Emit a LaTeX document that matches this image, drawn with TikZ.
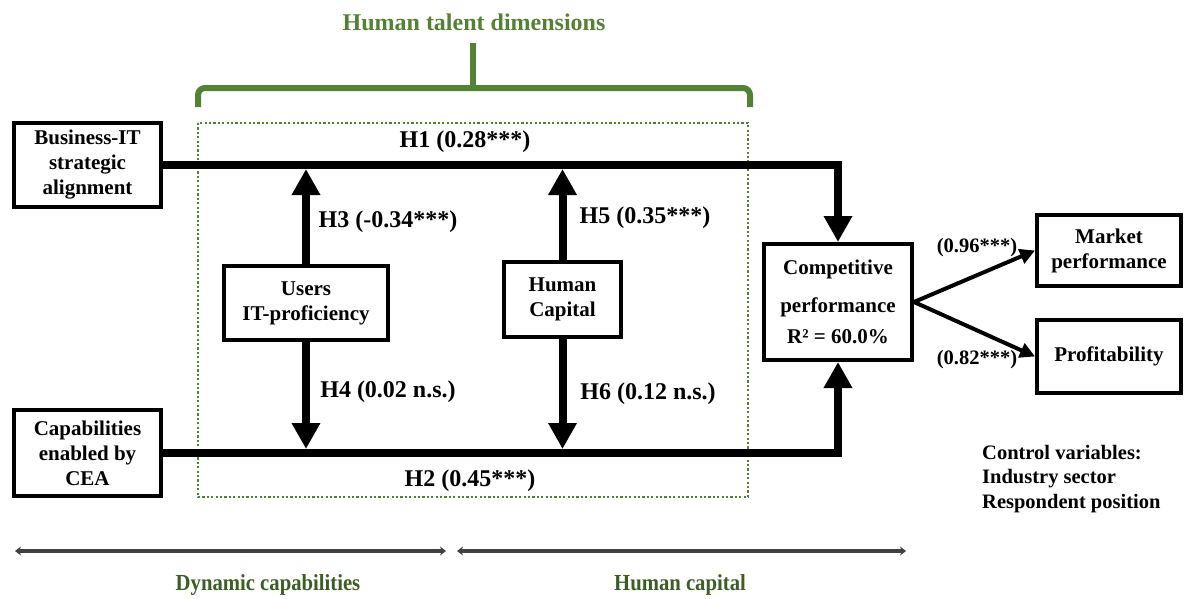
\documentclass[tikz,border=0pt]{standalone}
\usepackage{fontspec}
\setmainfont{Liberation Serif}
\usetikzlibrary{arrows.meta}
\definecolor{brgreen}{HTML}{548235}
\definecolor{dotgreen}{HTML}{4F8030}
\definecolor{dkgreen}{HTML}{3A5E23}
\begin{document}
\begin{tikzpicture}[x=1pt,y=-1pt,
  box/.style={draw, line width=4pt, fill=white, align=center, inner sep=0pt,
    font=\bfseries\fontsize{21}{25}\selectfont},
  conn/.style={line width=8pt, line join=miter, -{Triangle[width=27pt,length=26pt]}},
  thinconn/.style={line width=4pt, -{Triangle[width=15pt,length=15pt]}},
  hlab/.style={font=\bfseries\fontsize{24}{28}\selectfont, inner sep=0pt},
  slab/.style={font=\bfseries\fontsize{20.5}{24}\selectfont, inner sep=0pt},
  glab/.style={font=\bfseries\fontsize{23}{27}\selectfont, text=dkgreen, inner sep=0pt},
  span/.style={line width=3.5pt, black!75, {Stealth[length=6pt,width=9pt]}-{Stealth[length=6pt,width=9pt]}}
]
\useasboundingbox (0,0) rectangle (1186,598);

% title and brace
\node[font=\bfseries\fontsize{24}{28}\selectfont, text=brgreen, inner sep=0pt] (title) at (474,22) {Human talent dimensions};
\draw[brgreen, line width=6pt, rounded corners=7pt] (198,107) -- (198,88) -- (750,88) -- (750,107);
\draw[brgreen, line width=6pt] (473,43) -- (473,88);

% dotted frame
\draw[dotgreen, line width=2.5pt, dash pattern=on 2.2pt off 2.2pt] (198,123) rectangle (748,497);

% boxes
\node[box, minimum width=147pt, minimum height=84pt] (bit) at (87.5,165) {Business-IT\\strategic\\alignment};
\node[box, minimum width=147pt, minimum height=86pt] (cea) at (87.5,453) {Capabilities\\enabled by\\CEA};
\node[box, minimum width=164pt, minimum height=74pt] (uit) at (306,303) {Users\\IT-proficiency};
\node[box, minimum width=117pt, minimum height=75pt] (hc) at (562.5,299.5) {Human\\Capital};
\node[box, minimum width=148pt, minimum height=116pt] (comp) at (838,302) {Competitive\\[13pt]performance\\[6pt]R² = 60.0\%};
\node[box, minimum width=144pt, minimum height=71pt] (mkt) at (1109,250.5) {Market\\performance};
\node[box, minimum width=144pt, minimum height=73pt] (prof) at (1109,356.5) {Profitability};

% connectors
\coordinate (h1b) at (0,169);
\coordinate (h2t) at (0,449);
\draw[conn] (bit.east) -| (comp.north);
\draw[conn] (cea.east) -| (comp.south);
\draw[conn] (uit.north) -- (uit.north |- h1b);
\draw[conn] (uit.south) -- (uit.south |- h2t);
\draw[conn] (hc.north) -- (hc.north |- h1b);
\draw[conn] (hc.south) -- (hc.south |- h2t);
\draw[thinconn] (comp.east) -- (mkt.west);
\draw[thinconn] (comp.east) -- (prof.west);

% labels
\node[hlab] (l1) at (465,142) {H1 (0.28***)};
\node[hlab] (l2) at (470,481) {H2 (0.45***)};
\node[hlab] (l3) at (388,222) {H3 (-0.34***)};
\node[hlab] (l4) at (388,392) {H4 (0.02 n.s.)};
\node[hlab] (l5) at (645,218) {H5 (0.35***)};
\node[hlab] (l6) at (648,394) {H6 (0.12 n.s.)};
\node[slab] (l7) at (977,248) {(0.96***)};
\node[slab] (l8) at (977,360) {(0.82***)};

\node[slab, anchor=west, align=left, font=\bfseries\fontsize{20.5}{24.5}\selectfont] (ctrl) at (982,479) {Control variables:\\Industry sector\\Respondent position};

% bottom spans
\coordinate (s1a) at (15,551);
\coordinate (s1b) at (446,551);
\coordinate (s2a) at (457,551);
\coordinate (s2b) at (906,551);
\draw[span] (s1a) -- (s1b);
\draw[span] (s2a) -- (s2b);
\node[glab] (dyn) at (268,585) {\scalebox{0.9}[1]{Dynamic capabilities}};
\node[glab] (hum) at (680,585) {\scalebox{0.9}[1]{Human capital}};
\end{tikzpicture}
\end{document}
